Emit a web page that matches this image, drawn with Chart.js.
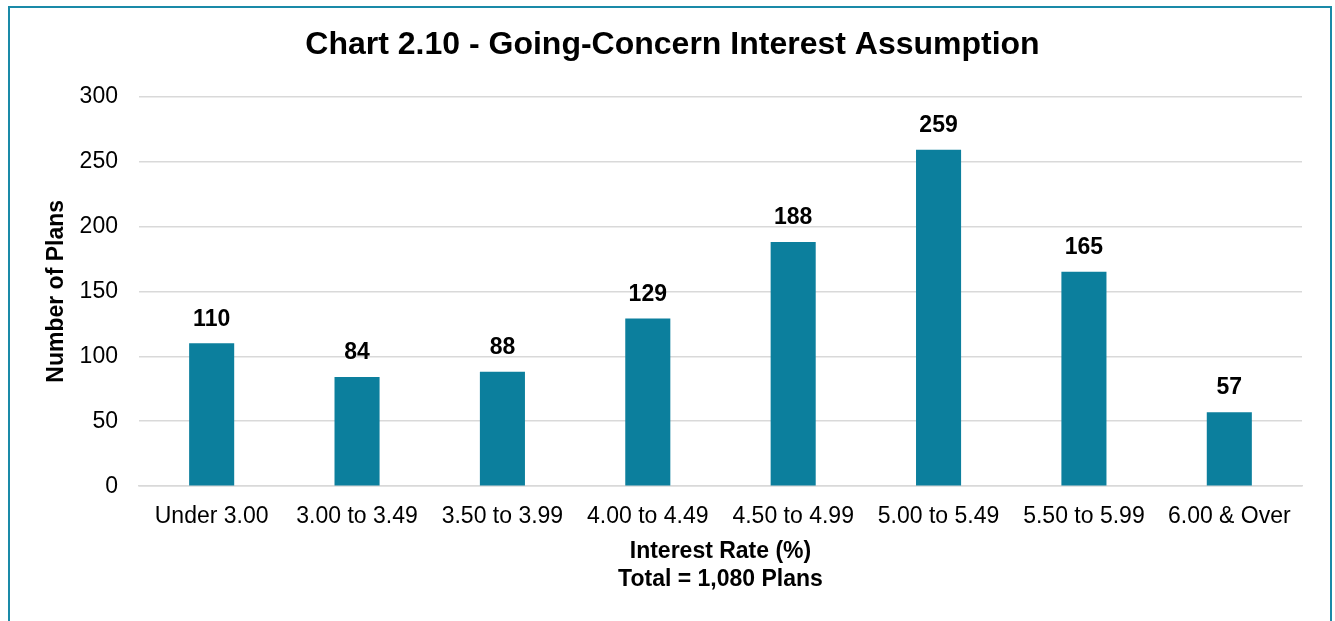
<!DOCTYPE html>
<html>
<head>
<meta charset="utf-8">
<script src="https://cdn.jsdelivr.net/npm/chart.js@4"></script>
<style>
  html, body { margin: 0; padding: 0; background: #fff; overflow: hidden; }
  #frame {
    position: absolute; left: 8px; top: 6px; width: 1324px; height: 640px;
    border: 2px solid #1a8aa8; box-sizing: border-box;
  }
  #wrap { position: absolute; left: 0; top: 0; width: 1335px; height: 621px; }
</style>
</head>
<body>
<div id="frame"></div>
<div id="wrap"><canvas id="chart"></canvas></div>
<script>
const categories = ['Under 3.00', '3.00 to 3.49', '3.50 to 3.99', '4.00 to 4.49',
  '4.50 to 4.99', '5.00 to 5.49', '5.50 to 5.99', '6.00 & Over'];
const planCounts = [110, 84, 88, 129, 188, 259, 165, 57];

const FONT = "'Liberation Sans', Arial, sans-serif";

// draws the bold value above each bar
const valueLabels = {
  id: 'valueLabels',
  afterDatasetsDraw(chart) {
    const ctx = chart.ctx;
    const meta = chart.getDatasetMeta(0);
    ctx.save();
    ctx.font = 'bold 23px ' + FONT;
    ctx.fillStyle = '#000';
    ctx.textAlign = 'center';
    ctx.textBaseline = 'middle';
    meta.data.forEach((bar, i) => {
      ctx.fillText(String(planCounts[i]), bar.x, bar.y - 24);
    });
    ctx.restore();
  }
};

new Chart('chart', {
  type: 'bar',
  data: {
    labels: categories,
    datasets: [{
      label: 'Number of Plans',
      data: planCounts,
      backgroundColor: '#0c7f9d',
      categoryPercentage: 1,
      barPercentage: 0.31,
    }],
  },
  options: {
    responsive: true,
    maintainAspectRatio: false,
    animation: false,
    layout: { padding: { left: 43, right: 33, bottom: 28, top: 0 } },
    plugins: {
      legend: { display: false },
      tooltip: { enabled: false },
      title: {
        display: true,
        text: 'Chart 2.10 - Going-Concern Interest Assumption',
        color: '#000',
        font: { family: FONT, size: 32, weight: 'bold' },
        padding: { top: 26, bottom: 32 },
      },
    },
    scales: {
      y: {
        min: 0,
        max: 300,
        ticks: {
          stepSize: 50,
          color: '#000',
          padding: 21,
          font: { family: FONT, size: 23 },
        },
        grid: { color: '#d9d9d9', lineWidth: 1.5, drawTicks: false },
        border: { display: false },
        title: {
          display: true,
          text: 'Number of Plans',
          color: '#000',
          font: { family: FONT, size: 23, weight: 'bold' },
          padding: { top: 0, bottom: -12 },
        },
      },
      x: {
        ticks: {
          color: '#000',
          padding: 17,
          font: { family: FONT, size: 23 },
        },
        grid: { display: false, drawTicks: false },
        border: { color: '#d9d9d9', width: 1.5 },
        title: {
          display: true,
          text: ['Interest Rate (%)', 'Total = 1,080 Plans'],
          color: '#000',
          font: { family: FONT, size: 23, weight: 'bold' },
          padding: { top: -10, bottom: 0 },
        },
      },
    },
  },
  plugins: [valueLabels],
});
</script>
</body>
</html>
